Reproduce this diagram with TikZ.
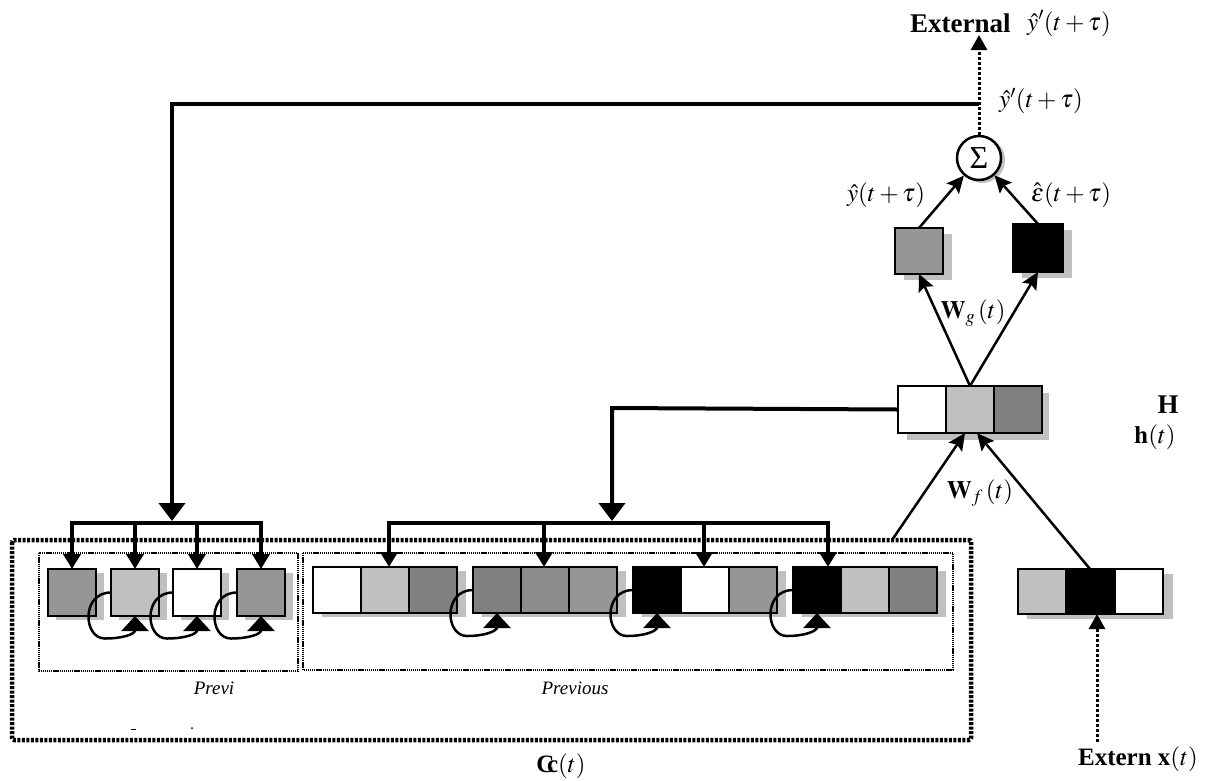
\documentclass[tikz,border=0pt]{standalone}
\usepackage{mathptmx}
\usepackage{fontspec}
\setmainfont{Liberation Serif}
\usetikzlibrary{arrows.meta,calc}
\definecolor{lg}{HTML}{C0C0C0}
\definecolor{ga}{HTML}{969696}
\definecolor{gb}{HTML}{8C8C8C}
\definecolor{gc}{HTML}{808080}
\definecolor{shadowgray}{HTML}{C0C0C0}
\tikzset{
  cellbox/.style={draw=black,line width=2pt,minimum width=48pt,minimum height=46pt,inner sep=0pt,outer sep=0pt},
  conn/.style={line width=4pt},
  mainarrow/.style={line width=4pt,-{Triangle[length=18pt,width=26pt]}},
  dropa/.style={line width=4pt,-{Triangle[length=15pt,width=17pt]}},
  thinarrow/.style={line width=2.5pt,-{Stealth[length=17pt,width=16pt,inset=3pt]}},
  loopa/.style={line width=2.5pt,-{Triangle[length=15pt,width=27pt]}},
  dotarrow/.style={line width=3pt,dash pattern=on 3pt off 2pt,-{Triangle[length=15pt,width=16pt]}},
  outerbox/.style={line width=4.5pt,dash pattern=on 3pt off 1.5pt},
  innerbox/.style={line width=1.8pt,dash pattern=on 1.3pt off 0.8pt},
  lab/.style={font=\fontsize{25}{28}\selectfont,inner sep=0pt},
  blab/.style={font=\fontsize{27}{30}\selectfont\bfseries,inner sep=0pt},
  ilab/.style={font=\fontsize{19}{22}\selectfont\itshape,inner sep=0pt},
}
\begin{document}
\begin{tikzpicture}[x=1pt,y=-1pt,line join=miter]
\useasboundingbox (0,0) rectangle (1212,780);

% dotted frames
\draw[outerbox,rounded corners=2pt] (12,540) rectangle (971,740);
\draw[innerbox] (39,553) rectangle (298,671);
\draw[innerbox] (303,553) rectangle (953,670);

% left cells
\foreach \n/\x/\c in {1/72/ga,2/135/lg,3/197/white,4/261/ga}{
  \fill[shadowgray] (\x-24+8,569+4) rectangle (\x+24+8,616+4);
  \node[cellbox,fill=\c,minimum height=47pt] (L\n) at (\x,592.5) {};
}

% middle groups
\foreach \g/\xl/\ca/\cb/\cc in {1/313/white/lg/gc,2/473/gc/gb/ga,3/633/black/white/ga,4/793/black/lg/gc}{
  \fill[shadowgray] (\xl+9,567+4) rectangle (\xl+144+9,613+4);
  \node[cellbox,fill=\ca] (M\g1) at (\xl+24,590) {};
  \node[cellbox,fill=\cb] (M\g2) at (\xl+72,590) {};
  \node[cellbox,fill=\cc] (M\g3) at (\xl+120,590) {};
}

% hidden layer
\fill[shadowgray] (907,393) rectangle (1049,440);
\node[cellbox,fill=white,minimum height=47pt] (H1) at (922,409.5) {};
\node[cellbox,fill=lg,minimum height=47pt] (H2) at (970,409.5) {};
\node[cellbox,fill=gc,minimum height=47pt] (H3) at (1018,409.5) {};

% output cells
\fill[shadowgray] (904,234) rectangle (952,280);
\node[cellbox,fill=ga] (Oy) at (919,251) {};
\fill[shadowgray] (1022,230) rectangle (1072,278);
\node[cellbox,fill=black,minimum width=50pt,minimum height=48pt] (Oe) at (1038,248) {};

% input cells
\fill[shadowgray] (1027,574) rectangle (1173,619);
\node[cellbox,fill=lg,minimum height=45pt] (X1) at (1042,591.5) {};
\node[cellbox,fill=black,minimum height=45pt,minimum width=49pt] (X2) at (1090,591.5) {};
\node[cellbox,fill=white,minimum height=45pt] (X3) at (1139,591.5) {};

% sum node
\fill[shadowgray] (982,160) circle (23);
\node[circle,draw,line width=2.5pt,fill=white,minimum size=44pt,inner sep=0pt,font=\fontsize{32}{34}\selectfont] (S) at (979,158) {Σ};

% coordinates
\coordinate (tj) at (979,104);
\coordinate (tl) at (172,104);
\coordinate (lb) at (172,521);
\coordinate (lk1) at (72,523);
\coordinate (lk4) at (261,523);
\coordinate (mj) at (612,408);
\coordinate (mb) at (612,521);
\coordinate (mk1) at (389,523);
\coordinate (mk2) at (544,523);
\coordinate (mk3) at (704,523);
\coordinate (mk4) at (828,523);
\coordinate (extout) at (979,35);
\coordinate (ob) at (892,540);
\coordinate (xin) at (1097,742);

% feedback from output
\draw[dotarrow] (S.north) -- (extout);
\draw[mainarrow] (tj) -- (tl) -- (lb);
\draw[conn,line cap=rect] (lk1) -- (lk4);
\foreach \i in {1,...,4}{
  \draw[dropa] (L\i.north |- lk1) -- (L\i.north);
}

% feedback from hidden
\draw[mainarrow] (H1.west) -- (mj) -- (mb);
\draw[conn,line cap=rect] (mk1) -- (mk4);
\draw[dropa] (mk1) -- (mk1 |- M12.north);
\draw[dropa] (mk2) -- (mk2 |- M22.north);
\draw[dropa] (mk3) -- (mk3 |- M32.north);
\draw[dropa] (mk4) -- (mk4 |- M41.north);

% self loops
\foreach \n in {L2,L3,L4,M21,M31,M41}{
  \draw[loopa] (\n.west) .. controls ($(\n.west)+(-30,0)$) and ($(\n.west)+(-28,46)$) .. ($(\n.west)+(-6,46)$)
     .. controls ($(\n.west)+(12,46)$) and ($(\n.south)+(0,18)$) .. (\n.south);
}

% forward connections
\draw[thinarrow] (ob) -- ($(H2.south)+(-5,0)$);
\draw[thinarrow] (X2.north) -- ($(H2.south)+(7,0)$);
\draw[thinarrow] (H2.north) -- (Oy.south);
\draw[thinarrow] (H2.north) -- (Oe.south);
\draw[thinarrow] (Oy.north) -- (S);
\draw[thinarrow] (Oe.north) -- (S);
\draw[dotarrow] (xin) -- (xin |- X2.south);

% labels
\node[blab,anchor=base west] (lext) at (910,32) {External};
\node[lab,anchor=base west] (lext2) at (1027,30) {$\hat{y}'(t+\tau)$};
\node[lab] (lyp) at (1041,101) {$\hat{y}'(t+\tau)$};
\node[lab] (ly) at (886,195) {$\hat{y}(t+\tau)$};
\node[lab] (le) at (1071,195) {$\hat{\varepsilon}(t+\tau)$};
\node[lab] (lwg) at (973,313) {$\mathbf{W}_g\,(t)$};
\node[lab] (lwf) at (980,493) {$\mathbf{W}_f\,(t)$};
\node[blab] (lH) at (1168,405) {H};
\node[lab] (lh) at (1155,437) {$\mathbf{h}(t)$};
\node[ilab] (lp1) at (214,688) {Previ};
\node[ilab] (lp2) at (575,688) {Previous};
\node[lab] (lc) at (561,766) {\textbf{C}\kern-0.3em\textbf{c}$(t)$};
\node[lab] (lx) at (1138,759) {\textbf{Extern} $\mathbf{x}(t)$};
\draw[line width=1pt] (131,729) -- (136,729);
\fill (192,728) circle (1pt);
\end{tikzpicture}
\end{document}
